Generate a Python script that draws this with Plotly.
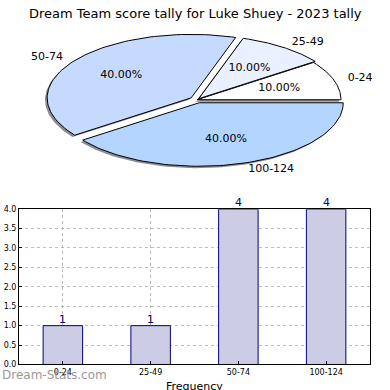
import numpy as np
import plotly.graph_objects as go

title = "Dream Team score tally for Luke Shuey - 2023 tally"
categories = ["0-24", "25-49", "50-74", "100-124"]
counts = [1, 1, 4, 4]
pie_colors = ["#FFFFFF", "#EAF0FF", "#C6D9FE", "#B3D5FF"]
explode = [0.0, 0.02, 0.05, 0.05]
bar_fill = "#CCCCE5"
bar_edge = "#000080"
font = "DejaVu Sans"

fig = go.Figure()

total = sum(counts)
fracs = [c / total for c in counts]
starts = np.cumsum([0] + fracs[:-1]) * 2 * np.pi
ends = np.cumsum(fracs) * 2 * np.pi


def wedge(t1, t2, ox, oy):
    t = np.linspace(t1, t2, 80)
    xs = np.concatenate([[ox], ox + np.cos(t), [ox]])
    ys = np.concatenate([[oy], oy + np.sin(t), [oy]])
    return xs, ys

# shadows
for i in range(len(counts)):
    mid = (starts[i] + ends[i]) / 2
    ox, oy = explode[i] * np.cos(mid), explode[i] * np.sin(mid)
    xs, ys = wedge(starts[i], ends[i], ox - 0.015, oy - 0.03)
    fig.add_trace(go.Scatter(x=xs, y=ys, fill="toself", mode="lines",
                             fillcolor="rgba(0,0,0,0.45)", line=dict(width=0),
                             xaxis="x", yaxis="y", hoverinfo="skip", showlegend=False))
# wedges
for i in range(len(counts)):
    mid = (starts[i] + ends[i]) / 2
    ox, oy = explode[i] * np.cos(mid), explode[i] * np.sin(mid)
    xs, ys = wedge(starts[i], ends[i], ox, oy)
    fig.add_trace(go.Scatter(x=xs, y=ys, fill="toself", mode="lines",
                             fillcolor=pie_colors[i], line=dict(color="black", width=1),
                             xaxis="x", yaxis="y", hoverinfo="skip", showlegend=False))
# labels
for i in range(len(counts)):
    mid = (starts[i] + ends[i]) / 2
    ox, oy = explode[i] * np.cos(mid), explode[i] * np.sin(mid)
    px, py = ox + 0.6 * np.cos(mid), oy + 0.6 * np.sin(mid)
    fig.add_trace(go.Scatter(x=[px], y=[py], mode="text", text=[f"{fracs[i]*100:.2f}%"],
                             textposition="middle center",
                             textfont=dict(family=font, size=11, color="black"),
                             xaxis="x", yaxis="y", hoverinfo="skip", showlegend=False))
    lx, ly = ox + 1.1 * np.cos(mid), oy + 1.1 * np.sin(mid)
    pos = "middle right" if np.cos(mid) >= 0 else "middle left"
    fig.add_trace(go.Scatter(x=[lx], y=[ly], mode="text", text=[categories[i]],
                             textposition=pos,
                             textfont=dict(family=font, size=11, color="black"),
                             xaxis="x", yaxis="y", hoverinfo="skip", showlegend=False))

# bars
xpos = list(range(len(categories)))
fig.add_trace(go.Bar(x=xpos, y=counts, width=0.45, marker=dict(color=bar_fill, line=dict(color=bar_edge, width=1)),
                     xaxis="x2", yaxis="y2", showlegend=False, hoverinfo="skip"))

annotations = [
    dict(text=title, x=0.5, y=1 - 10 / 390, xref="paper", yref="paper", showarrow=False,
         font=dict(size=13, family=font, color="black"), xanchor="center", yanchor="middle"),
    dict(text="Frequency", x=194.5 / 390, y=1 - 383 / 390, xref="paper", yref="paper", showarrow=False,
         font=dict(size=11, family=font, color="black"), xanchor="center", yanchor="top"),
    dict(text="Dream-Stats.com", x=0, y=1 - 380 / 390, xref="paper", yref="paper", showarrow=False,
         font=dict(size=12, family=font, color="#999999"), xanchor="left", yanchor="middle"),
]
for xv, c in zip(xpos, counts):
    annotations.append(dict(text=str(c), x=xv, y=c, xref="x2", yref="y2", showarrow=False,
                            xanchor="center", yanchor="bottom", yshift=-2,
                            font=dict(size=11, family=font, color=bar_edge)))

fig.update_layout(
    width=390, height=390, margin=dict(l=0, r=0, t=0, b=0),
    paper_bgcolor="white", plot_bgcolor="white",
    font=dict(family=font, color="black"),
    showlegend=False,
    xaxis=dict(domain=[0, 1], range=[-197 / 144, 193 / 144], visible=False, fixedrange=True),
    yaxis=dict(domain=[0.5, 1], range=[-97 / 65, 98 / 65], visible=False, fixedrange=True),
    xaxis2=dict(domain=[19 / 390, 370 / 390], range=[-0.5, 3.5], anchor="y2",
                tickvals=xpos, ticktext=categories, tickfont=dict(size=8, family=font),
                showgrid=True, gridcolor="#bbbbbb", griddash="dot", gridwidth=1,
                showline=True, linecolor="black", linewidth=1, mirror=True,
                ticks="inside", ticklen=3, tickcolor="black", zeroline=False),
    yaxis2=dict(domain=[21 / 390, 180 / 390], range=[0, 4], anchor="x2",
                tickvals=[0, 0.5, 1, 1.5, 2, 2.5, 3, 3.5, 4], tickformat=".1f",
                tickfont=dict(size=8, family=font),
                showgrid=True, gridcolor="#bbbbbb", griddash="dot", gridwidth=1,
                showline=True, linecolor="black", linewidth=1, mirror=True,
                ticks="inside", ticklen=3, tickcolor="black", zeroline=False),
    annotations=annotations,
)

fig.write_html("out.html")
